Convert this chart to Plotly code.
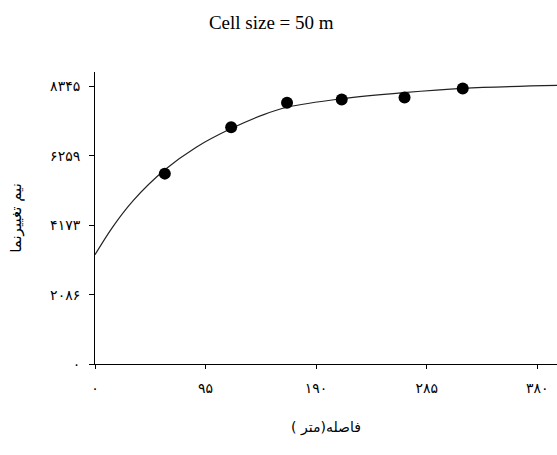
import plotly.graph_objects as go

# Experimental semivariogram points (distance m, semivariance)
lag_dist = [60, 117, 165, 212, 266, 316]
semivar = [5724, 7120, 7855, 7954, 8015, 8286]

# Fitted model curve
model_dist = [0, 15, 33, 60, 87, 117, 145, 165, 212, 265, 316, 397]
model_val = [3284, 4110, 4920, 5840, 6520, 7080, 7500, 7720, 7975, 8160, 8290, 8376]

x_tickvals = [0, 95, 190, 285, 380]
x_ticktext = ["۰", "۹۵", "۱۹۰", "۲۸۵", "۳۸۰"]
y_tickvals = [0, 2086, 4173, 6259, 8345]
y_ticktext = ["۰", "۲۰۸۶", "۴۱۷۳", "۶۲۵۹", "۸۳۴۵"]

title_text = "Cell size = 50 m"
x_title = "\u200fفاصله(متر )\u200f"
y_title = "نیم تغییرنما"

fig = go.Figure()
fig.add_trace(go.Scatter(
    x=model_dist, y=model_val, mode="lines",
    line=dict(color="#222222", width=1.2, shape="spline", smoothing=1.0),
    hoverinfo="skip", showlegend=False,
))
fig.add_trace(go.Scatter(
    x=lag_dist, y=semivar, mode="markers",
    marker=dict(color="black", size=12),
    showlegend=False,
))

fig.update_layout(
    width=557, height=455,
    margin=dict(l=95, r=0, t=72, b=91),
    paper_bgcolor="white", plot_bgcolor="white",
    title=dict(text=title_text, x=0.487, xanchor="center", y=1 - 22 / 455, yanchor="middle",
               font=dict(family="Liberation Serif", size=19, color="black")),
    font=dict(family="DejaVu Sans", color="black"),
)
fig.update_xaxes(
    range=[0, 397], tickvals=x_tickvals, ticktext=x_ticktext,
    showgrid=False, zeroline=False, showline=True, linecolor="black", linewidth=1,
    ticks="outside", ticklen=4, tickcolor="black", ticklabelstandoff=7,
    tickfont=dict(family="DejaVu Sans", size=14, color="black"),
    title=dict(text=x_title, font=dict(family="DejaVu Sans", size=14, color="black"), standoff=27),
)
fig.update_yaxes(
    range=[0, 8780], tickvals=y_tickvals, ticktext=y_ticktext,
    showgrid=False, zeroline=False, showline=True, linecolor="black", linewidth=1,
    ticks="outside", ticklen=5, tickcolor="black", ticklabelstandoff=6,
    tickfont=dict(family="DejaVu Sans", size=14, color="black"),
    title=dict(text=y_title, font=dict(family="DejaVu Sans", size=15, color="black"), standoff=24),
)

fig.write_html("out.html")
